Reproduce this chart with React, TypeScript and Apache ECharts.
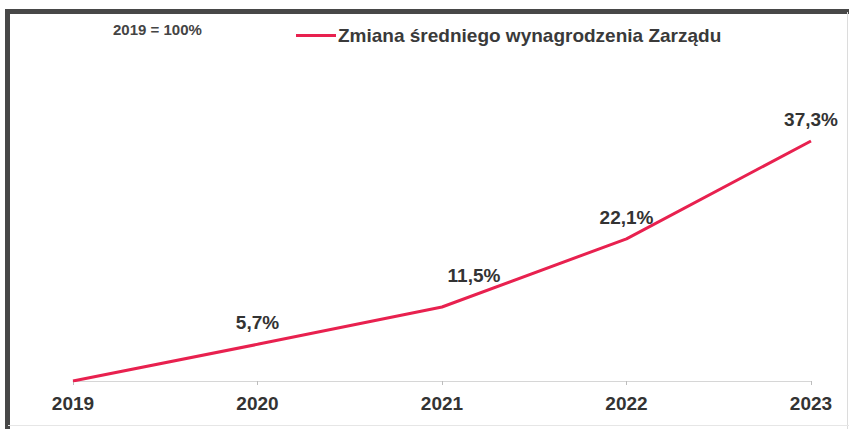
import React, { useEffect, useRef } from "react";
import * as echarts from "echarts";

const years = ["2019", "2020", "2021", "2022", "2023"];
const values = [0, 5.7, 11.5, 22.1, 37.3];
const seriesName = "Zmiana średniego wynagrodzenia Zarządu";
const baseNote = "2019 = 100%";

const FONT = "'Liberation Sans', Arial, Helvetica, sans-serif";
const LINE_COLOR = "#e8214f";

export default function App() {
  const ref = useRef<HTMLDivElement>(null);
  useEffect(() => {
    if (!ref.current) return;
    const chart = echarts.init(ref.current, null, { renderer: "svg" });
    const labelCfg: any[] = [
      { show: false },
      { offset: [0, 0] },
      { offset: [32, -10] },
      { offset: [0, 0] },
      { offset: [0, 0] },
    ];
    chart.setOption({
      animation: false,
      backgroundColor: "#ffffff",
      textStyle: { fontFamily: FONT },
      legend: {
        show: true,
        left: 291,
        top: 21,
        icon: "rect",
        itemWidth: 40,
        itemHeight: 3,
        data: [seriesName],
        textStyle: {
          fontFamily: FONT,
          fontSize: 19,
          fontWeight: "bold",
          color: "#3a3a3a",
          padding: [0, 0, 0, -3],
        },
      },
      grid: { left: 73, right: 38, top: 141, bottom: 48 },
      xAxis: {
        type: "category",
        data: years,
        boundaryGap: false,
        axisLine: { lineStyle: { color: "#d6d6d6", width: 1 } },
        axisTick: { show: true, length: 4, lineStyle: { color: "#bdbdbd" } },
        axisLabel: {
          margin: 13,
          fontFamily: FONT,
          fontSize: 19,
          fontWeight: "bold",
          color: "#333333",
        },
      },
      yAxis: {
        type: "value",
        min: 0,
        max: 37.3,
        show: false,
        splitLine: { show: false },
      },
      series: [
        {
          name: seriesName,
          type: "line",
          data: values.map((v, i) => ({ value: v, label: labelCfg[i] })),
          symbol: "circle",
          symbolSize: 0,
          showSymbol: true,
          lineStyle: { color: LINE_COLOR, width: 3 },
          itemStyle: { color: LINE_COLOR },
          label: {
            show: true,
            position: "top",
            distance: 12,
            fontFamily: FONT,
            fontSize: 19,
            fontWeight: "bold",
            color: "#333333",
            formatter: (p: any) => String(p.value).replace(".", ",") + "%",
          },
        },
      ],
      graphic: [
        {
          type: "rect",
          shape: { x: 5, y: 9, width: 844, height: 5 },
          style: { fill: "#484848" },
          silent: true,
        },
        {
          type: "rect",
          shape: { x: 5, y: 9, width: 5, height: 420 },
          style: { fill: "#484848" },
          silent: true,
        },
        {
          type: "line",
          shape: { x1: 847.5, y1: 12, x2: 847.5, y2: 429 },
          style: { stroke: "#dcdcdc", lineWidth: 1 },
          silent: true,
        },
        {
          type: "line",
          shape: { x1: 8, y1: 425.5, x2: 849, y2: 425.5 },
          style: { stroke: "#e6e6e6", lineWidth: 1 },
          silent: true,
        },
        {
          type: "text",
          left: 113,
          top: 22,
          style: {
            text: baseNote,
            fontFamily: FONT,
            fontSize: 15,
            fontWeight: "bold",
            fill: "#444444",
          },
        },
      ],
    });
    return () => chart.dispose();
  }, []);
  return (
    <div
      ref={ref}
      style={{ position: "fixed", left: 0, top: 0, width: 849, height: 429, background: "#fff" }}
    />
  );
}
